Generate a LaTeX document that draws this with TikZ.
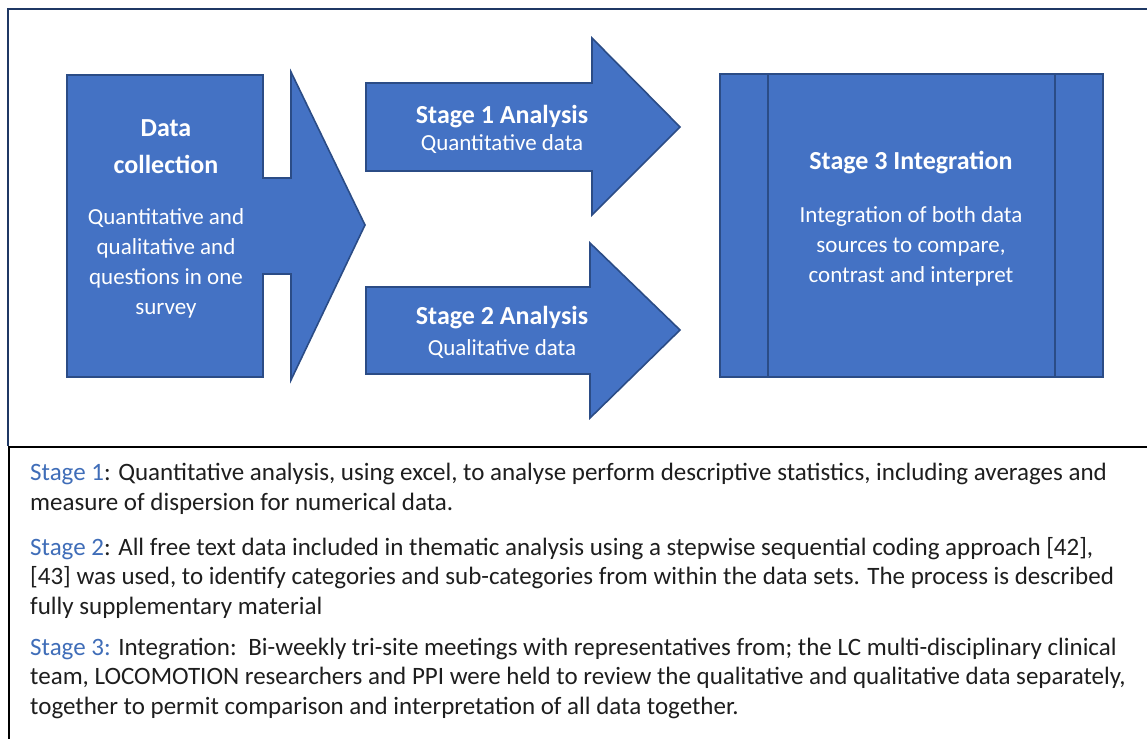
\documentclass[tikz,border=0pt]{standalone}
\usepackage{fontspec}
\setmainfont{Carlito}
\usetikzlibrary{positioning}

\definecolor{shapeblue}{HTML}{4472C4}
\definecolor{shapeedge}{HTML}{2B4C86}
\definecolor{framenavy}{HTML}{1F3864}
\definecolor{stageblue}{HTML}{3F6DB8}
\definecolor{bodytext}{HTML}{1E1E1E}

\tikzset{
  block/.style={fill=shapeblue,draw=shapeedge,line width=1.6pt,line join=miter},
  heading/.style={text=white,font=\fontsize{26}{37}\selectfont\bfseries,align=center,anchor=base,inner sep=0pt},
  subhead/.style={text=white,font=\fontsize{23}{29.8}\selectfont,align=center,anchor=base,inner sep=0pt},
  notes/.style={text=bodytext,font=\fontsize{25}{29.5}\selectfont,align=left,anchor=base west,inner sep=0pt},
}

\begin{document}
\begin{tikzpicture}[x=1pt,y=-1pt]
            \useasboundingbox (0,0) rectangle (1147,738);

            \draw[framenavy,line width=1.2pt] (1160,9) -- (8,9) -- (8,446);
            \draw[black,line width=2.6pt] (1160,447) -- (9,447) -- (9,750);

            \filldraw[block] (67,75) -- (263,75) -- (263,178) -- (291,178) -- (291,72)
               -- (365,225) -- (291,380) -- (291,274) -- (263,274) -- (263,377) -- (67,377) -- cycle;
            \filldraw[block] (366,83) -- (592,83) -- (592,38) -- (680,127)
               -- (592,215) -- (592,171) -- (366,171) -- cycle;
            \filldraw[block] (366,287) -- (590,287) -- (590,243) -- (680,330)
               -- (590,418) -- (590,374) -- (366,374) -- cycle;
            \filldraw[block] (720,74) rectangle (1103,377);
            \draw[shapeedge,line width=1.6pt] (768,74) -- (768,377);
            \draw[shapeedge,line width=1.6pt] (1055,74) -- (1055,377);

            % multi-line nodes sit on the baseline of their last line
            \node[heading] (collect) at (166,174){Data\\collection};
            \node[subhead] (collectnote) at (166,314){Quantitative and\\qualitative and\\questions in one\\survey};

            \node[heading] (stageone) at (502,124){Stage 1 Analysis};
            \node[subhead] (stageonenote) at (502,151){Quantitative data};

            \node[heading] (stagetwo) at (502,324){Stage 2 Analysis};
            \node[subhead] (stagetwonote) at (502,355){Qualitative data};

            \node[heading] (stagethree) at (911,170){Stage 3 Integration};
            \node[subhead] (stagethreenote) at (911,282){Integration of both data\\sources to compare,\\contrast and interpret};

            \node[notes] (noteone) at (30,510){\textcolor{stageblue}{Stage 1}: Quantitative analysis, using excel, to analyse perform descriptive statistics, including averages and\\measure of dispersion for numerical data.};
            \node[notes] (notetwo) at (30,614){\textcolor{stageblue}{Stage 2}: All free text data included in thematic analysis using a stepwise sequential coding approach [42],\\{}[43] was used, to identify categories and sub-categories from within the data sets. The process is described\\fully supplementary material};
            \node[notes] (notethree) at (30,714){\textcolor{stageblue}{Stage 3:} Integration:\, Bi-weekly tri-site meetings with representatives from; the LC multi-disciplinary clinical\\team, LOCOMOTION researchers and PPI were held to review the qualitative and qualitative data separately,\\together to permit comparison and interpretation of all data together.};
          \end{tikzpicture}
\end{document}
